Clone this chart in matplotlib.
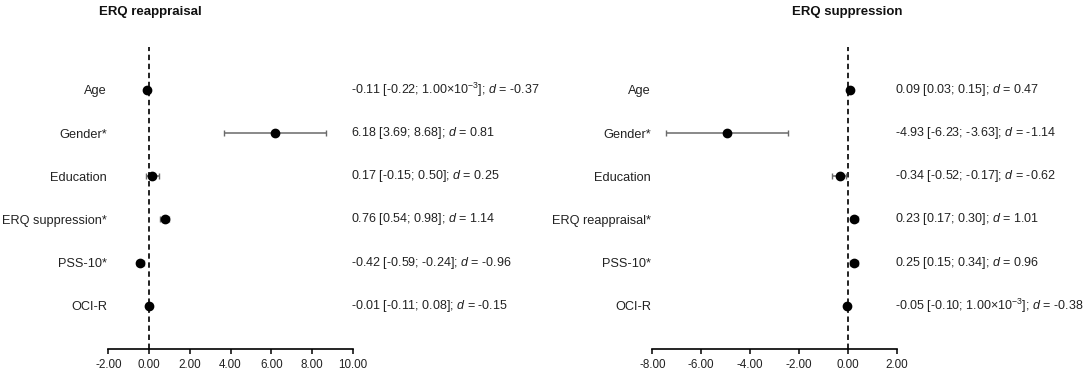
import matplotlib
matplotlib.use('Agg')
import matplotlib.pyplot as plt
import matplotlib.transforms as mtransforms

plt.rcParams['font.family'] = ['Liberation Sans', 'DejaVu Sans']
plt.rcParams['mathtext.fontset'] = 'custom'
plt.rcParams['mathtext.rm'] = 'Liberation Sans'
plt.rcParams['mathtext.it'] = 'Liberation Sans:italic'
plt.rcParams['mathtext.bf'] = 'Liberation Sans:bold'

# ERQ reappraisal panel
reap_labels = ['Age', 'Gender*', 'Education', 'ERQ suppression*', 'PSS-10*', 'OCI-R']
reap_est = [-0.11, 6.18, 0.17, 0.76, -0.42, -0.01]
reap_lo = [-0.22, 3.69, -0.15, 0.54, -0.59, -0.11]
reap_hi = [0.001, 8.68, 0.50, 0.98, -0.24, 0.08]
reap_text = ['-0.11 [-0.22; 1.00×10$^{-3}$]; $d$ = -0.37',
             '6.18 [3.69; 8.68]; $d$ = 0.81',
             '0.17 [-0.15; 0.50]; $d$ = 0.25',
             '0.76 [0.54; 0.98]; $d$ = 1.14',
             '-0.42 [-0.59; -0.24]; $d$ = -0.96',
             '-0.01 [-0.11; 0.08]; $d$ = -0.15']
reap_ticks = [-2, 0, 2, 4, 6, 8, 10]

# ERQ suppression panel (bars as drawn in the figure)
supp_labels = ['Age', 'Gender*', 'Education', 'ERQ reappraisal*', 'PSS-10*', 'OCI-R']
supp_est = [0.09, -4.93, -0.34, 0.23, 0.25, -0.05]
supp_lo = [0.03, -7.45, -0.67, 0.11, 0.10, -0.10]
supp_hi = [0.15, -2.45, -0.08, 0.40, 0.40, 0.001]
supp_text = ['0.09 [0.03; 0.15]; $d$ = 0.47',
             '-4.93 [-6.23; -3.63]; $d$ = -1.14',
             '-0.34 [-0.52; -0.17]; $d$ = -0.62',
             '0.23 [0.17; 0.30]; $d$ = 1.01',
             '0.25 [0.15; 0.34]; $d$ = 0.96',
             '-0.05 [-0.10; 1.00×10$^{-3}$]; $d$ = -0.38']
supp_ticks = [-8, -6, -4, -2, 0, 2]

fig = plt.figure(figsize=(10.84, 3.76), dpi=100)
ax1 = fig.add_axes([0.0999, 0.0718, 0.2255, 0.804])
ax2 = fig.add_axes([0.6018, 0.0718, 0.2255, 0.804])


def forest(ax, labels, est, lo, hi, texts, ticks):
    ys = list(range(len(labels)))
    xerr = [[e - l for e, l in zip(est, lo)], [h - e for e, h in zip(est, hi)]]
    ax.axvline(0, color='#111111', linestyle=(0, (3, 2)), linewidth=1.3, zorder=1)
    ax.errorbar(est, ys, xerr=xerr, fmt='none', ecolor='#6a6a6a',
                elinewidth=1.1, capsize=2.5, capthick=1.0, zorder=2)
    ax.plot(est, ys, 'o', color='black', markersize=6, zorder=3)
    ax.set_ylim(6.0, -1.0)
    ax.set_xlim(ticks[0], ticks[-1])
    ax.set_xticks(ticks)
    ax.set_xticklabels(['%.2f' % t for t in ticks], fontsize=8.4, color='#222222')
    ax.set_yticks(ys)
    ax.set_yticklabels(labels, fontsize=9.2, color='#222222')
    ax.tick_params(axis='y', length=0, pad=1)
    ax.tick_params(axis='x', length=3.5, width=1.1, direction='out', pad=3.5)
    for s in ['top', 'right', 'left']:
        ax.spines[s].set_visible(False)
    ax.spines['bottom'].set_linewidth(1.2)
    trans = mtransforms.blended_transform_factory(ax.transAxes, ax.transData)
    for y, t in zip(ys, texts):
        ax.text(0.993, y, t, transform=trans, ha='left', va='center',
                fontsize=9.0, color='#222222')


forest(ax1, reap_labels, reap_est, reap_lo, reap_hi, reap_text, reap_ticks)
forest(ax2, supp_labels, supp_est, supp_lo, supp_hi, supp_text, supp_ticks)

fig.text(0.139, 0.969, 'ERQ reappraisal', ha='center', va='center',
         fontsize=9.5, fontweight='bold', color='#111111')
fig.text(0.782, 0.969, 'ERQ suppression', ha='center', va='center',
         fontsize=9.5, fontweight='bold', color='#111111')

fig.savefig('out.png', dpi=100)
